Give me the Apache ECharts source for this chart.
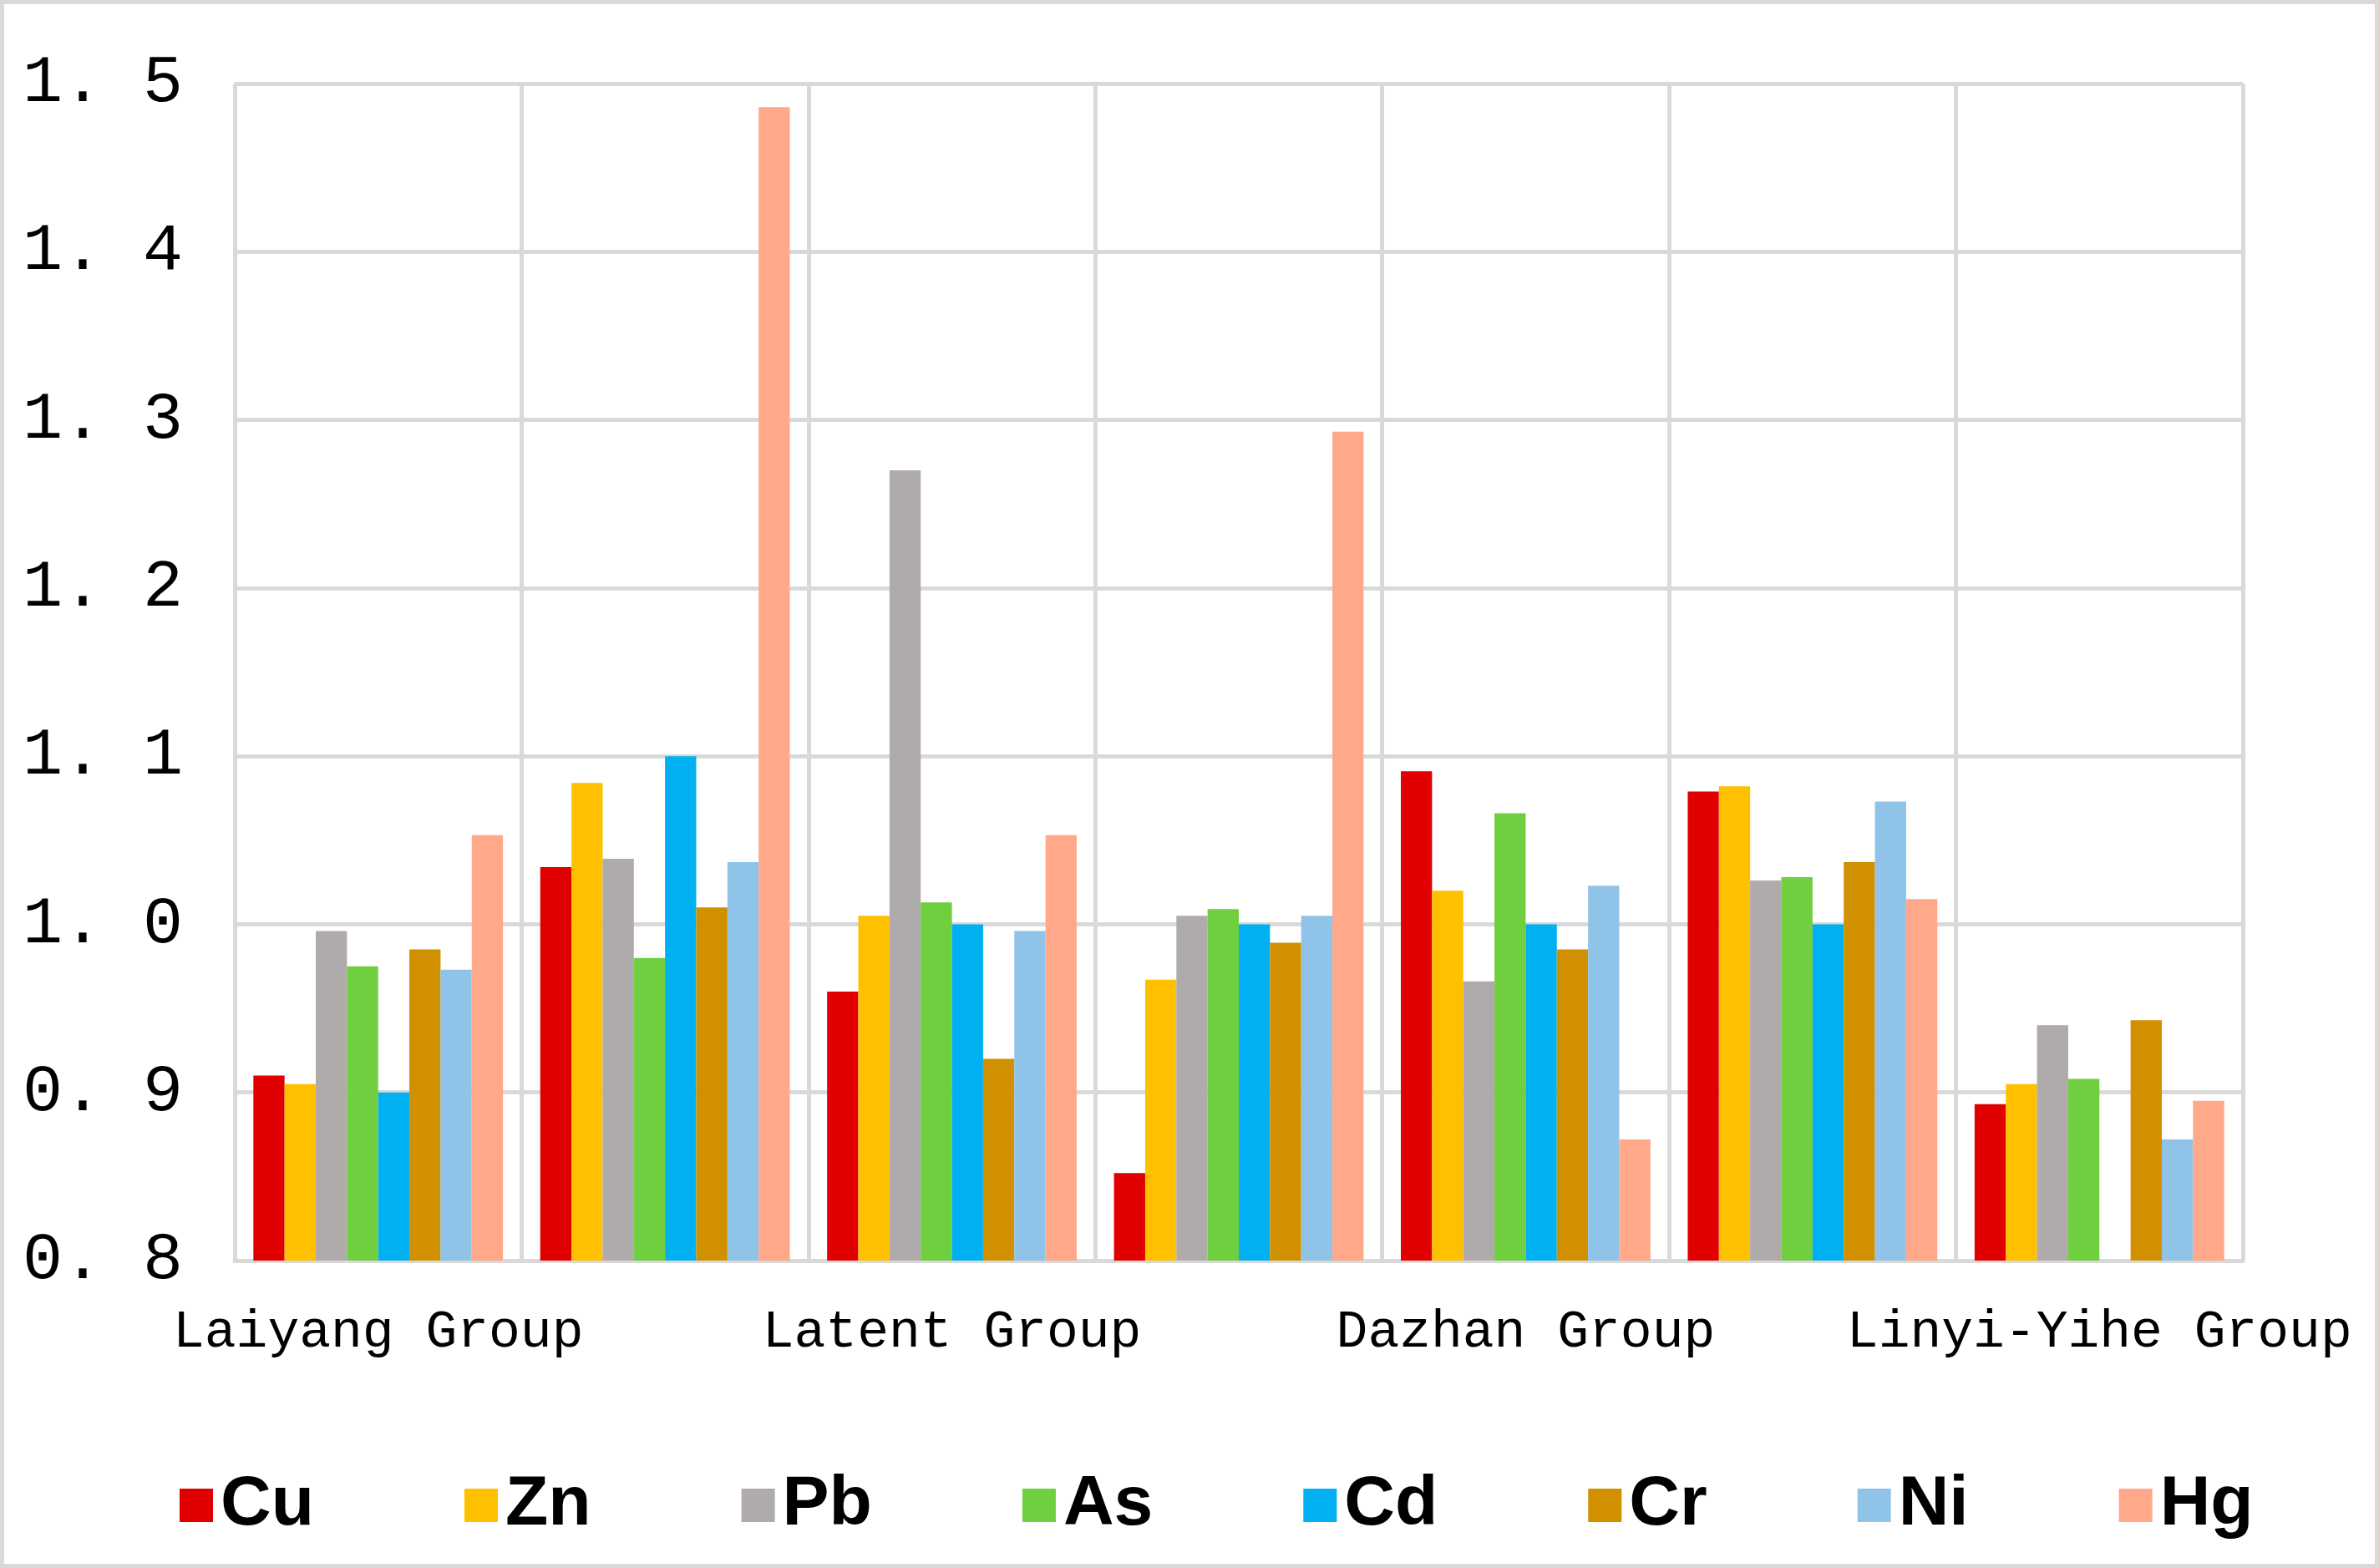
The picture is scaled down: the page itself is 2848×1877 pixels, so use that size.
<!DOCTYPE html>
<html>
<head>
<meta charset="utf-8">
<script src="https://cdn.jsdelivr.net/npm/echarts@6/dist/echarts.min.js"></script>
<style>
html, body { margin: 0; padding: 0; background: #ffffff; }
#chart { width: 2838px; height: 1867px; border: 5px solid #d9d9d9; }
</style>
</head>
<body>
<div id="chart"></div>
<script>
// 组名 (只显示隔一个的标签)
var groups = ['Laiyang Group', '', 'Latent Group', '', 'Dazhan Group', '', 'Linyi-Yihe Group']
var elements = ['Cu', 'Zn', 'Pb', 'As', 'Cd', 'Cr', 'Ni', 'Hg']
var colors = ['#e00000', '#ffc000', '#b0abab', '#6fcf3f', '#00b0f0', '#d09000', '#8fc3e8', '#ffa98a']

var Cu = [0.910, 1.034, 0.960, 0.852, 1.091, 1.079, 0.893]
var Zn = [0.905, 1.084, 1.005, 0.967, 1.020, 1.082, 0.905]
var Pb = [0.996, 1.039, 1.270, 1.005, 0.966, 1.026, 0.940]
var As = [0.975, 0.980, 1.013, 1.009, 1.066, 1.028, 0.908]
var Cd = [0.900, 1.100, 1.000, 1.000, 1.000, 1.000, null]
var Cr = [0.985, 1.010, 0.920, 0.989, 0.985, 1.037, 0.943]
var Ni = [0.973, 1.037, 0.996, 1.005, 1.023, 1.073, 0.872]
var Hg = [1.053, 1.486, 1.053, 1.293, 0.872, 1.015, 0.895]
var values = [Cu, Zn, Pb, As, Cd, Cr, Ni, Hg]

var myChart = echarts.init(document.getElementById('chart'))
var series = []
for (let i = 0; i < elements.length; i++) {
    series.push({
        name: elements[i],
        type: 'bar',
        data: values[i],
        itemStyle: {color: colors[i]},
        barGap: '0%',
        barCategoryGap: '13%'
    })
}

var option = {
    animation: false,
    grid: {left: 276, right: 158, top: 95, bottom: 363},
    legend: {
        data: elements,
        left: 205,
        top: 1750,
        itemWidth: 40,
        itemHeight: 40,
        itemGap: 180,
        icon: 'rect',
        textStyle: {fontFamily: 'Liberation Sans', fontWeight: 'bold', fontSize: 84, color: '#000000', padding: [0, 0, 0, 4]}
    },
    xAxis: {
        type: 'category',
        data: groups,
        axisTick: {show: false},
        axisLine: {lineStyle: {color: '#d9d9d9', width: 5}},
        splitLine: {show: true, interval: 0, lineStyle: {color: '#d9d9d9', width: 5}},
        axisLabel: {interval: 0, margin: 55, fontFamily: 'Liberation Mono', fontSize: 63, color: '#000000'}
    },
    yAxis: {
        type: 'value',
        min: 0.8,
        max: 1.5,
        interval: 0.1,
        axisLine: {show: false},
        axisTick: {show: false},
        splitLine: {lineStyle: {color: '#d9d9d9', width: 5}},
        axisLabel: {
            margin: 254, align: 'left',
            fontFamily: 'Liberation Mono', fontSize: 80, color: '#000000',
            formatter: function (v) { return v.toFixed(1).replace('.', '. ') }
        }
    },
    series: series
}
option && myChart.setOption(option)
</script>
</body>
</html>
